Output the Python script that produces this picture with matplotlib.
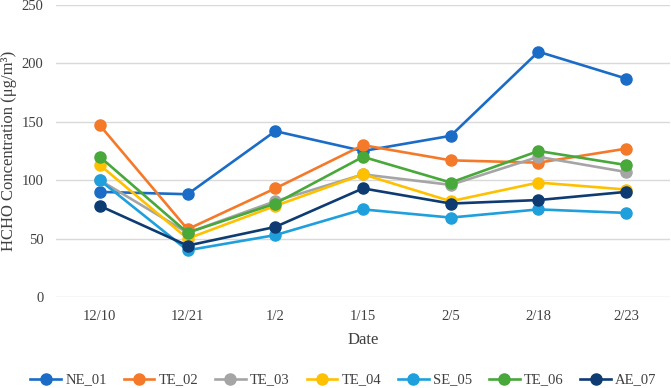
import numpy as np
import matplotlib
matplotlib.use("Agg")
import matplotlib.pyplot as plt

plt.rcParams['font.family'] = ['Liberation Serif', 'DejaVu Serif']

"""
Data
"""
dates = ['12/10', '12/21', '1/2', '1/15', '2/5', '2/18', '2/23']
ne_01 = [90, 88, 142, 125, 138, 210, 187]
te_02 = [147, 58, 93, 130, 117, 115, 127]
te_03 = [100, 55, 82, 105, 96, 120, 107]
te_04 = [113, 50, 78, 105, 82, 98, 92]
se_05 = [100, 40, 53, 75, 68, 75, 72]
te_06 = [120, 55, 80, 120, 98, 125, 113]
ae_07 = [78, 44, 60, 93, 80, 83, 90]

series_names = ['NE_01', 'TE_02', 'TE_03', 'TE_04', 'SE_05', 'TE_06', 'AE_07']
series_values = [ne_01, te_02, te_03, te_04, se_05, te_06, ae_07]
colors = ['#1A6CC6', '#F47A2A', '#A5A5A5', '#FFC000', '#1FA0DC', '#48A83A', '#0E3C72']

"""
Plot
"""
fig = plt.figure(figsize=(6.71, 3.88), dpi=100)
ax = fig.add_axes([56 / 671, (388 - 297) / 388, 614 / 671, 292 / 388])

x = np.arange(len(dates))
for name, vals, c in zip(series_names, series_values, colors):
    ax.plot(x, vals, color=c, lw=1.9, marker='o', ms=8, label=name)

ax.set_xlim(-0.5, len(dates) - 0.5)
ax.set_ylim(0, 250)
ax.set_yticks(range(0, 251, 50))
ax.set_xticks(x)
ax.set_xticklabels(dates)
ax.grid(axis='y', color='#D9D9D9', lw=1)
ax.set_axisbelow(True)
for s in ax.spines.values():
    s.set_visible(False)
ax.tick_params(length=0, labelsize=10.5, colors='#404040', pad=9)
ax.tick_params(axis='y', pad=9)

ax.set_xlabel('Date', fontsize=12, color='#404040', labelpad=7)
ax.set_ylabel('HCHO Concentration (μg/m³)', fontsize=12, color='#404040')
ax.yaxis.set_label_coords(-0.064, 0.5)

fig.legend(loc='center', bbox_to_anchor=(0.512, 8 / 388), ncol=7, frameon=False,
           fontsize=10.5, handlelength=2.1, columnspacing=1.15, handletextpad=0.3,
           borderpad=0, labelcolor='#404040')

plt.savefig("out.png", dpi=100)
